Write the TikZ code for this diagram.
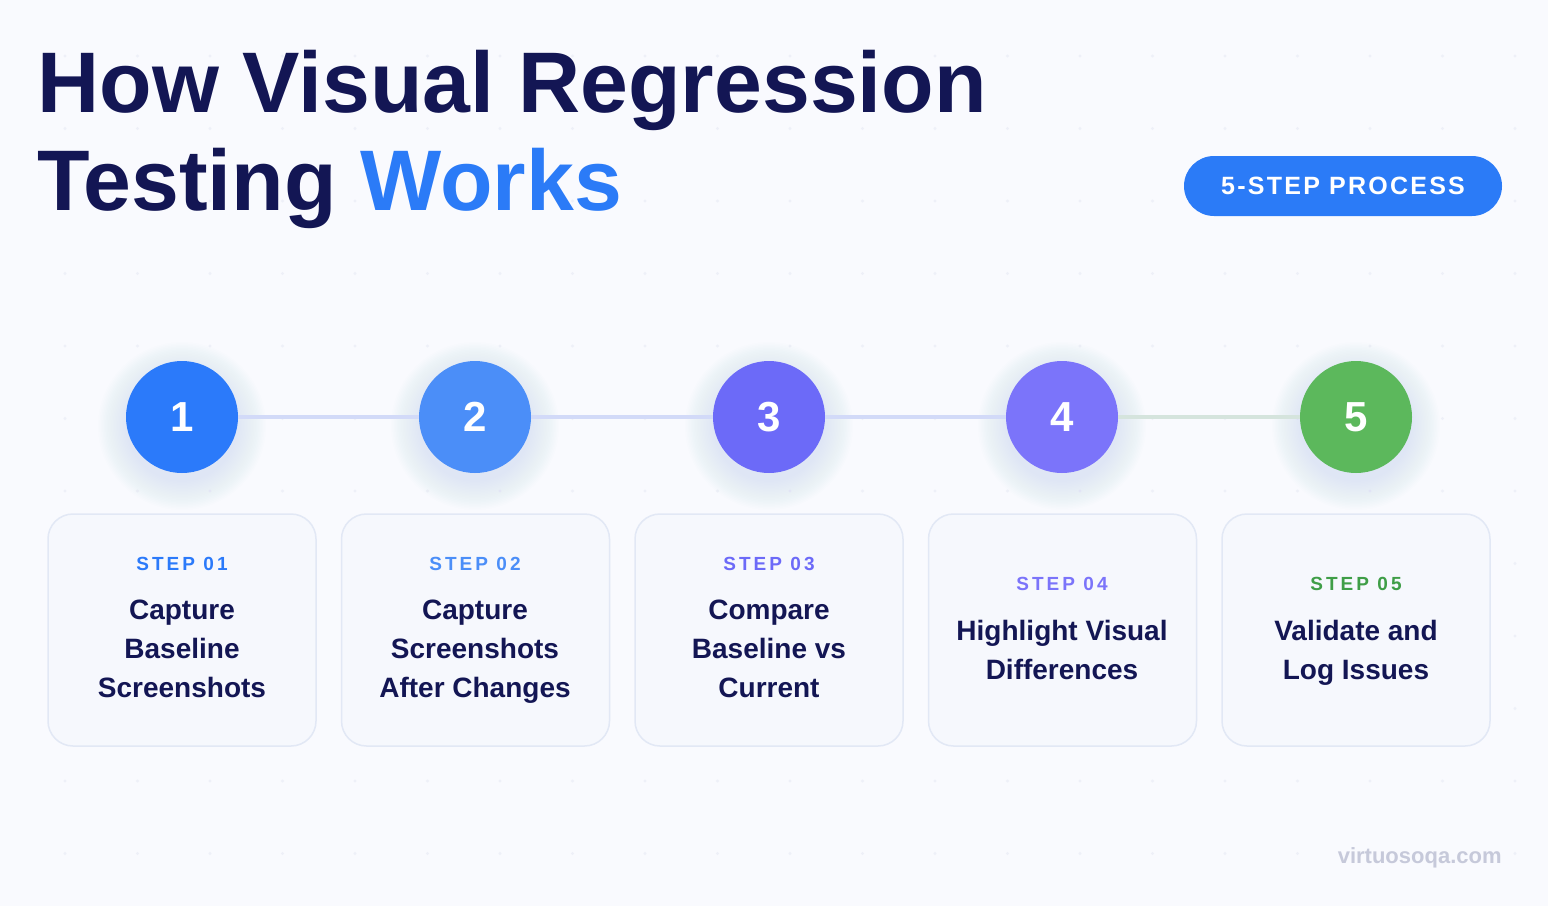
\documentclass[tikz,border=0pt]{standalone}
\usepackage{fontspec}
\setmainfont{Liberation Sans}
\definecolor{navy}{RGB}{19,22,84}
\definecolor{accent}{RGB}{43,123,247}
\definecolor{bgc}{RGB}{249,250,254}
\definecolor{dotc}{RGB}{238,240,248}
\definecolor{cA}{RGB}{43,122,250}
\definecolor{cB}{RGB}{75,142,248}
\definecolor{cC}{RGB}{108,106,248}
\definecolor{cD}{RGB}{123,116,250}
\definecolor{cE}{RGB}{92,184,92}
\definecolor{lE}{RGB}{63,158,71}
\definecolor{linec}{RGB}{210,218,248}
\definecolor{lineg}{RGB}{213,228,221}
\definecolor{glowc}{RGB}{110,135,245}
\definecolor{cardfill}{RGB}{246,248,253}
\definecolor{carddraw}{RGB}{226,232,245}
\definecolor{wmc}{RGB}{198,201,218}
\tikzset{
  titletext/.style={inner sep=0pt, anchor=base west, text=navy,
    font=\fontsize{43}{50}\selectfont\bfseries},
  pill/.style={fill=accent, rounded corners=15pt, minimum width=159pt, minimum height=30pt,
    text=white, inner sep=0pt, font=\fontsize{12.5}{15}\selectfont\bfseries\addfontfeature{LetterSpace=9}},
  stepcircle/.style={circle, minimum size=56pt, inner sep=0pt, text=white,
    font=\fontsize{21}{24}\selectfont\bfseries},
  stepline/.style={line width=2pt, draw=linec},
  card/.style={draw=carddraw, line width=0.75pt, fill=cardfill, rounded corners=12.5pt,
    minimum width=134pt, minimum height=116pt, inner sep=0pt},
  steplabel/.style={inner sep=0pt, anchor=base,
    font=\fontsize{9.5}{12}\selectfont\bfseries\addfontfeature{LetterSpace=16}},
  cardbody/.style={inner sep=0pt, anchor=north, align=center, text=navy,
    font=\fontsize{14}{19.5}\selectfont\bfseries},
  watermark/.style={inner sep=0pt, anchor=base east, text=wmc,
    font=\fontsize{11}{13}\selectfont\bfseries}
}
\begin{document}
\begin{tikzpicture}[x=0.5pt,y=-0.5pt]
\useasboundingbox (0,0) rectangle (1548,906);
\fill[bgc] (0,0) rectangle (1548,906);
% faint dot grid
\foreach \i in {0,...,20}{
  \foreach \j in {0,...,11}{
    \fill[dotc] (65+\i*72.5, 56+\j*72.5) circle (0.8pt);
  }
}
% title
\node[titletext] (t1) at (37,112) {How Visual Regression};
\node[titletext] (t2) at (37,210) {Testing \textcolor{accent}{Works}};
\node[pill] (pill) at (1343,186) {5-STEP PROCESS};
% soft glows
\foreach \x in {182,475,769,1062,1356}{
  \foreach \k in {1,...,20}{
    \fill[glowc, opacity=0.009] (\x,426) circle ({54+\k*1.5});
  }
}
% circles
\node[stepcircle, fill=cA] (c1) at (182,417) {1};
\node[stepcircle, fill=cB] (c2) at (475,417) {2};
\node[stepcircle, fill=cC] (c3) at (769,417) {3};
\node[stepcircle, fill=cD] (c4) at (1062,417) {4};
\node[stepcircle, fill=cE] (c5) at (1356,417) {5};
\draw[stepline] (c1) -- (c2);
\draw[stepline] (c2) -- (c3);
\draw[stepline] (c3) -- (c4);
\draw[stepline, draw=lineg] (c4) -- (c5);
% cards
\node[card] (k1) at (182,630) {};
\node[card] (k2) at (475.5,630) {};
\node[card] (k3) at (769,630) {};
\node[card] (k4) at (1062.5,630) {};
\node[card] (k5) at (1356,630) {};
\node[steplabel, text=cA] (s1) at (182,570) {STEP 01};
\node[steplabel, text=cB] (s2) at (475,570) {STEP 02};
\node[steplabel, text=cC] (s3) at (769,570) {STEP 03};
\node[steplabel, text=cD] (s4) at (1062,590) {STEP 04};
\node[steplabel, text=lE] (s5) at (1356,590) {STEP 05};
\node[cardbody] (b1) at (182,600) {Capture\\Baseline\\Screenshots};
\node[cardbody] (b2) at (475,600) {Capture\\Screenshots\\After Changes};
\node[cardbody] (b3) at (769,600) {Compare\\Baseline vs\\Current};
\node[cardbody] (b4) at (1062,620) {Highlight Visual\\Differences};
\node[cardbody] (b5) at (1356,620) {Validate and\\Log Issues};
\node[watermark] (wm) at (1502,863) {virtuosoqa.com};
\end{tikzpicture}
\end{document}
